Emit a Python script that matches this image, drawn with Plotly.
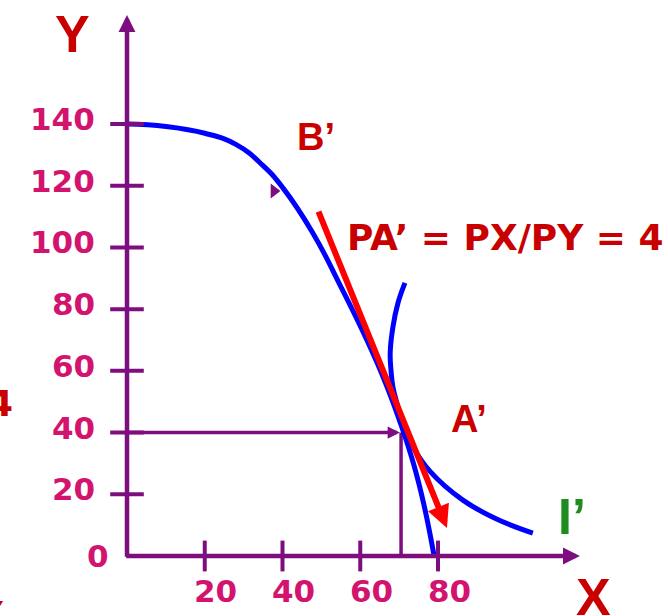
import plotly.graph_objects as go

# Production possibility frontier (good X, good Y)
ppf_x = [0, 10, 20, 28, 35, 40.1, 47.8, 54.8, 61.7, 66.4, 70.5, 73.8, 76.4, 79.0]
ppf_y = [140, 139.2, 137.0, 133.4, 126.5, 119.3, 104.7, 87.8, 70.0, 56.4, 42.5, 29.5, 16.5, 0]

# Community indifference curve I'
ic_x = [71.5, 69.7, 68.4, 67.7, 67.9, 68.4, 69.7, 71.0, 72.8, 77.9, 86.4, 95.2, 104.4]
ic_y = [88.5, 82.0, 74.2, 65.8, 60.3, 54.8, 48.3, 41.8, 36.9, 27.5, 18.1, 11.9, 7.4]

# Equilibrium point A'
a_x = 70.5
a_y = 40

# Price line PA' (tail -> head)
price_x = [49.1, 82.3]
price_y = [112.1, 9.1]

# Small marker on the frontier near B'
b_mark_x = [37.8]
b_mark_y = [118.3]

x_ticks = [20, 40, 60, 80]
y_ticks = [20, 40, 60, 80, 100, 120, 140]

PURPLE = "#7E0E80"
BLUE = "#0000FF"
RED = "#FF0000"
DARK_RED = "#C80000"
TICK_COLOR = "#D2146E"
GREEN = "#1E8C1E"

fig = go.Figure()

# vertical guide from A' to the X axis
fig.add_trace(go.Scatter(x=[a_x, a_x], y=[0, a_y], mode="lines",
                         line=dict(color=PURPLE, width=3.5), hoverinfo="skip"))

# frontier and indifference curve
fig.add_trace(go.Scatter(x=ppf_x, y=ppf_y, mode="lines",
                         line=dict(color=BLUE, width=5, shape="spline", smoothing=1.3),
                         hoverinfo="skip"))
fig.add_trace(go.Scatter(x=ic_x, y=ic_y, mode="lines",
                         line=dict(color=BLUE, width=5, shape="spline", smoothing=1.1),
                         hoverinfo="skip"))

# tick marks crossing the axes
fig.add_trace(go.Scatter(x=x_ticks, y=[0] * len(x_ticks), mode="markers",
                         marker=dict(symbol="line-ns", size=22, line=dict(color=PURPLE, width=4)),
                         hoverinfo="skip"))
fig.add_trace(go.Scatter(x=[0] * len(y_ticks), y=y_ticks, mode="markers",
                         marker=dict(symbol="line-ew", size=24, line=dict(color=PURPLE, width=4)),
                         hoverinfo="skip"))

fig.add_trace(go.Scatter(x=b_mark_x, y=b_mark_y, mode="markers",
                         marker=dict(symbol="triangle-right", size=13, color=PURPLE),
                         hoverinfo="skip"))


def arrow(x0, y0, x1, y1, color, width, size):
    fig.add_annotation(x=x1, y=y1, ax=x0, ay=y0, xref="x", yref="y",
                       axref="x", ayref="y", text="", showarrow=True,
                       arrowhead=2, arrowsize=size, arrowwidth=width,
                       arrowcolor=color, standoff=0, startstandoff=0)


# axes with arrow tips
arrow(0, -0.7, 0, 175.3, PURPLE, 4.5, 0.75)
arrow(-0.6, 0, 116.5, 0, PURPLE, 4.5, 0.75)
# horizontal guide into A'
arrow(0, a_y, a_x - 0.3, a_y, PURPLE, 3.5, 0.7)
# price line
arrow(price_x[0], price_y[0], price_x[1], price_y[1], RED, 6, 0.75)


def label(text, x, y, size, color, family="Liberation Sans", weight="bold",
          xanchor="center", yanchor="middle", xshift=0, yshift=0):
    fig.add_annotation(x=x, y=y, xref="x", yref="y", text=text, showarrow=False,
                       xanchor=xanchor, yanchor=yanchor, xshift=xshift, yshift=yshift,
                       font=dict(family=family, size=size, color=color, weight=weight))


# tick labels
for v in y_ticks:
    label(str(v), 0, v, 31, TICK_COLOR, family="DejaVu Sans",
          xanchor="right", xshift=-30, yshift=5)
for v in x_ticks:
    label(str(v), v, 0, 31, TICK_COLOR, family="DejaVu Sans",
          xshift=11, yshift=-35)
label("0", 0, 0, 31, TICK_COLOR, family="DejaVu Sans", xshift=-29)

# axis titles
label("Y", -13.9, 169.2, 52, DARK_RED)
label("X", 120.1, -13.3, 52, DARK_RED)

# point and curve labels
label("B’", 48.6, 135.8, 38, DARK_RED)
label("A’", 88.0, 44.4, 38, DARK_RED)
label("I’", 114.5, 12.6, 50, GREEN)
label("PA’ = PX/PY = 4", 56.1, 103.1, 36, DARK_RED, family="DejaVu Sans",
      xanchor="left")

# text running off the left edge
label("4", -28.8, 49.3, 36, DARK_RED, family="DejaVu Sans", xanchor="right")
label("X", -31.1, -11.0, 44, DARK_RED, xanchor="right", yanchor="top")

fig.update_layout(
    width=668, height=616, autosize=False,
    margin=dict(l=0, r=0, t=0, b=0),
    paper_bgcolor="white", plot_bgcolor="white",
    showlegend=False,
    xaxis=dict(range=[-32.669, 139.164], visible=False, fixedrange=True),
    yaxis=dict(range=[-19.444, 180.18], visible=False, fixedrange=True),
)

fig.write_html("out.html", config={"displayModeBar": False})
